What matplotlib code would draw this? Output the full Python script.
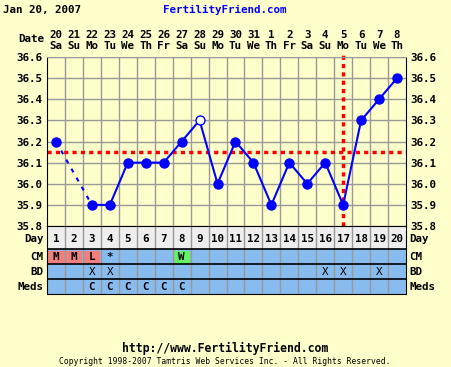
import matplotlib
matplotlib.use('Agg')
from matplotlib import pyplot as plt
from matplotlib.patches import Rectangle
import numpy as np

plt.rcParams['font.family'] = ['DejaVu Sans Mono']
plt.rcParams['font.weight'] = 'bold'

# chart data
days = list(range(1, 21))
dates = ['20', '21', '22', '23', '24', '25', '26', '27', '28', '29', '30', '31',
         '1', '2', '3', '4', '5', '6', '7', '8']
weekdays = ['Sa', 'Su', 'Mo', 'Tu', 'We', 'Th', 'Fr', 'Sa', 'Su', 'Mo', 'Tu', 'We',
            'Th', 'Fr', 'Sa', 'Su', 'Mo', 'Tu', 'We', 'Th']
temps = [36.2, None, 35.9, 35.9, 36.1, 36.1, 36.1, 36.2, 36.3, 36.0,
         36.2, 36.1, 35.9, 36.1, 36.0, 36.1, 35.9, 36.3, 36.4, 36.5]
open_days = [9]
coverline = 36.15
ovulation_day = 17
cm = {1: 'M', 2: 'M', 3: 'L', 4: '*', 8: 'W'}
bd_days = [3, 4, 16, 17, 19]
meds = {3: 'C', 4: 'C', 5: 'C', 6: 'C', 7: 'C', 8: 'C'}
temp_ticks = [35.8, 35.9, 36.0, 36.1, 36.2, 36.3, 36.4, 36.5, 36.6]

BG = '#ffffcc'
BLUE = '#0000ff'
W, H = 452, 367
FS = 7.8


def fx(px):
    return px / W


def fy(py):
    return 1 - py / H


fig = plt.figure(figsize=(W / 100, H / 100), dpi=100, facecolor=BG)

# temperature chart
ax = fig.add_axes([fx(47), fy(226), fx(406) - fx(47), (226 - 57) / H], facecolor=BG)
ax.set_xlim(0.5, 20.5)
ax.set_ylim(35.8, 36.6)
for d in range(1, 20):
    ax.axvline(d + 0.5, color='#999999', lw=1, zorder=1)
for t in temp_ticks[1:]:
    ax.axhline(t, color='#999999', lw=1, zorder=1)
ax.set_yticks(temp_ticks)
ax.set_yticklabels(['%.1f' % t for t in temp_ticks], fontsize=FS)
ax.set_xticks(days)
ax.set_xticklabels([d + '\n' + w for d, w in zip(dates, weekdays)], fontsize=FS,
                   linespacing=1.2)
ax.tick_params(axis='y', length=0, pad=3, labelright=True)
ax.tick_params(axis='x', length=0, pad=4, labeltop=True, labelbottom=False)
for s in ['left', 'right', 'bottom']:
    ax.spines[s].set_color('black')
ax.spines['top'].set_color('#999999')

t_arr = np.array([np.nan if t is None else t for t in temps])
ax.plot(days, t_arr, color=BLUE, lw=1.5, zorder=3)
# dashed bridge over missing temp
known = [d for d, t in zip(days, temps) if t is not None]
for a, b in zip(known[:-1], known[1:]):
    if b - a > 1:
        ax.plot([a, b], [temps[a - 1], temps[b - 1]], color=BLUE, lw=1.5,
                ls=(0, (2, 3)), zorder=3)
filled = [d for d in known if d not in open_days]
ax.plot(filled, [temps[d - 1] for d in filled], 'o', color=BLUE, ms=6.5, zorder=4)
ax.plot(open_days, [temps[d - 1] for d in open_days], 'o', mfc='white', mec=BLUE,
        ms=6.5, mew=1, zorder=4)
ax.axhline(coverline, color='#ff0000', lw=2.5, ls=(0, (1.2, 1.2)), zorder=2)
ax.axvline(ovulation_day, ymax=1.01, color='#ff0000', lw=2.5, ls=(0, (1.2, 1.2)),
           zorder=2, clip_on=False)

# table below chart
tb = fig.add_axes([fx(47), fy(294), fx(406) - fx(47), (294 - 226) / H], facecolor=BG)
tb.set_xlim(0.5, 20.5)
tb.set_ylim(68, 0)
tb.set_xticks([])
tb.set_yticks([])
rows = [(0, 23, '#eeeeee'), (23, 38, '#88bbee'), (38, 53, '#88bbee'), (53, 68, '#88bbee')]
for y0, y1, c in rows:
    tb.add_patch(Rectangle((0.5, y0), 20, y1 - y0, color=c, zorder=0))
for d, v in cm.items():
    if v in 'MLW':
        col = '#66ee66' if v == 'W' else '#f08080'
        tb.add_patch(Rectangle((d - 0.42, 25), 0.84, 11.5, color=col, zorder=1))
for d in range(1, 20):
    tb.axvline(d + 0.5, color='#999999', lw=1, zorder=2)
for y in [23, 38, 53]:
    tb.axhline(y, color='black', lw=1.2, zorder=3)
for s in tb.spines.values():
    s.set_color('black')
for d in days:
    tb.text(d, 13, str(d), ha='center', va='center', fontsize=FS, zorder=4)
for d, v in cm.items():
    tb.text(d, 31, v, ha='center', va='center', fontsize=FS, zorder=4)
for d in bd_days:
    tb.text(d, 46, 'X', ha='center', va='center', fontsize=FS, zorder=4,
            weight='normal')
for d, v in meds.items():
    tb.text(d, 61, v, ha='center', va='center', fontsize=FS, zorder=4)
for lbl, y in [('Day', 13), ('CM', 31), ('BD', 46), ('Meds', 61)]:
    tb.text(0.3, y, lbl, ha='right', va='center', fontsize=FS)
    tb.text(20.7, y, lbl, ha='left', va='center', fontsize=FS)

# header and footer
fig.text(fx(3), fy(10), 'Jan 20, 2007', ha='left', va='center', fontsize=FS)
fig.text(fx(225), fy(10), 'FertilityFriend.com', ha='center', va='center',
         fontsize=FS, color=BLUE)
fig.text(fx(44), fy(39), 'Date', ha='right', va='center', fontsize=FS)
fig.text(fx(225), fy(348), 'http://www.FertilityFriend.com', ha='center',
         va='center', fontsize=FS + 0.5)
fig.text(fx(225), fy(362), 'Copyright 1998-2007 Tamtris Web Services Inc. - All Rights Reserved.',
         ha='center', va='center', fontsize=5.8, weight='normal')

fig.savefig('out.png', dpi=100, facecolor=BG)
